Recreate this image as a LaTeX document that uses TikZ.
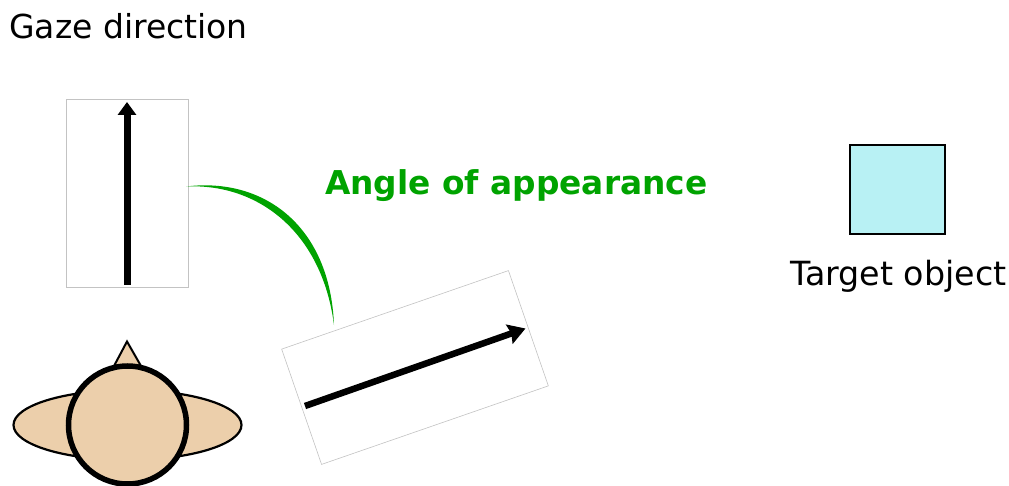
\documentclass[tikz,border=0pt]{standalone}
\usepackage{fontspec}
\setmainfont{DejaVu Sans}
\usetikzlibrary{arrows.meta,calc,shapes.geometric,positioning}
\definecolor{skintone}{RGB}{236,207,171}
\definecolor{targetcyan}{RGB}{184,241,244}
\definecolor{anglegreen}{RGB}{0,163,0}
\definecolor{framegray}{RGB}{195,195,195}
\tikzset{
  viewframe/.style={draw=framegray, line width=0.9pt, fill=white, inner sep=0pt, minimum width=122pt, minimum height=188pt},
  gazearrow/.style={line width=7pt, -{Triangle[length=13pt,width=18pt]}},
  caption/.style={font=\fontsize{33pt}{36pt}\selectfont, inner sep=0pt, anchor=base west},
}

\begin{document}
\begin{tikzpicture}[x=1pt, y=-1pt]
  \useasboundingbox (0,0) rectangle (1009,486);
  \node[caption] (gazelabel) at (9,39) {Gaze direction};
  \node[viewframe] (frontview) at (127.5,193.5) {};
  \node[viewframe, line width=0.6pt, minimum width=122pt, minimum height=240pt, rotate=-70.9] (sideview) at (415,367.5) {};
  \coordinate (frontstart) at (127,285);
  \coordinate (frontend) at (127,102);
  \coordinate (sidestart) at (305,406);
  \coordinate (sideend) at (525.5,328.5);
  \draw[gazearrow] (frontstart) -- (frontend);
  \draw[line width=6.5pt, -{Stealth[inset=2pt,length=17pt,width=20pt]}] (sidestart) -- (sideend);
  \coordinate (arcstart) at (186,186.5);
  \coordinate (arcend) at (334,325);
  \fill[anglegreen] (arcstart) .. controls (263,177) and (330,225) .. (arcend)
    .. controls (322,232) and (258,183) .. (arcstart);
  \node[caption, font=\fontsize{32.8pt}{36pt}\selectfont\bfseries, text=anglegreen] (anglelabel) at (325,195) {Angle of appearance};
  \node[draw, fill=targetcyan, line width=2.5pt, minimum width=95pt, minimum height=89pt] (target) at (897.5,189.5) {};
  \node[caption, font=\fontsize{33.3pt}{36pt}\selectfont] (targetlabel) at (790,286) {Target object};
  \draw[fill=skintone, line width=2pt] (114,366) -- (127,341.5) -- (141,366) -- cycle;
  \node[draw, ellipse, fill=skintone, line width=2.2pt, minimum width=228pt, minimum height=70pt, inner sep=0pt] (ears) at (127.5,425) {};
  \node[draw, circle, fill=skintone, line width=5.5pt, minimum size=118pt, inner sep=0pt, outer sep=0pt] (headtop) at (127.5,425) {};
\end{tikzpicture}
\end{document}
